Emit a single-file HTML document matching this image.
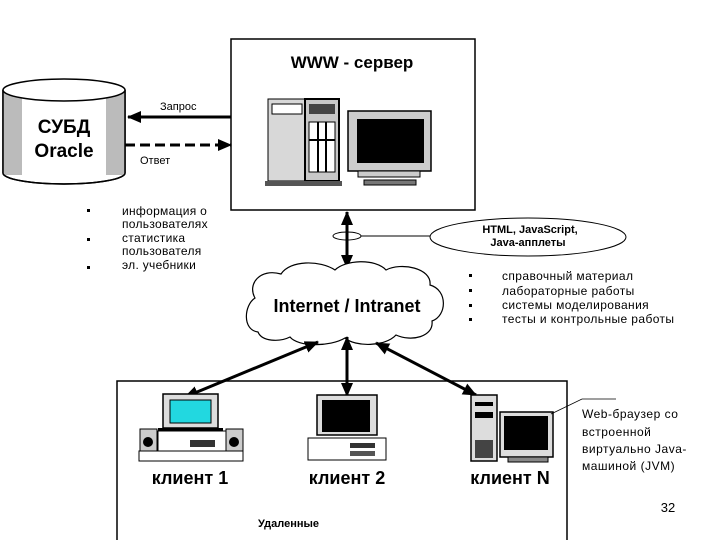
<!DOCTYPE html>
<html><head><meta charset="utf-8"><style>
html,body{margin:0;padding:0;background:#fff;}
svg{display:block;}
text{font-family:"Liberation Sans","DejaVu Sans",sans-serif;fill:#000;}
</style></head><body>
<svg width="720" height="540" viewBox="0 0 720 540" xmlns="http://www.w3.org/2000/svg">
<defs>
<marker id="ah2" markerWidth="14" markerHeight="12" refX="13" refY="6" orient="auto" markerUnits="userSpaceOnUse"><path d="M0,0 L14,6 L0,12 z" fill="#000"/></marker>
<marker id="ah2s" markerWidth="14" markerHeight="12" refX="1" refY="6" orient="auto" markerUnits="userSpaceOnUse"><path d="M14,0 L0,6 L14,12 z" fill="#000"/></marker>
</defs>
<rect x="231" y="39" width="244" height="171" fill="#fff" stroke="#000" stroke-width="1.5"/>
<text x="352" y="68" font-size="17" font-weight="bold" text-anchor="middle">WWW - сервер</text>
<rect x="268" y="99" width="38" height="82" fill="#d8d8d8" stroke="#000"/>
<rect x="272" y="104" width="30" height="10" fill="#fff" stroke="#000"/>
<rect x="305" y="99" width="34" height="82" fill="#c8c8c8" stroke="#000" stroke-width="2"/>
<rect x="309" y="104" width="26" height="10" fill="#444"/>
<rect x="309" y="122" width="26" height="50" fill="#fff" stroke="#000"/>
<line x1="318" y1="122" x2="318" y2="172" stroke="#000" stroke-width="2"/>
<line x1="326" y1="122" x2="326" y2="172" stroke="#000" stroke-width="2"/>
<line x1="309" y1="140" x2="335" y2="140" stroke="#000" stroke-width="2"/>
<rect x="265" y="181" width="77" height="5" fill="#555"/>
<rect x="348" y="111" width="83" height="60" fill="#ccc" stroke="#000" stroke-width="1.5"/>
<rect x="357" y="119" width="67" height="44" fill="#000"/>
<rect x="358" y="171" width="62" height="6" fill="#ccc" stroke="#000"/>
<rect x="364" y="180" width="52" height="5" fill="#777" stroke="#000"/>
<path d="M3,90 L3,173 A61,11 0 0 0 125,173 L125,90" fill="#fff" stroke="#000" stroke-width="1.5"/>
<rect x="3" y="90" width="19" height="85" fill="#bbb"/>
<rect x="106" y="90" width="19" height="85" fill="#bbb"/>
<path d="M3,90 L3,173 A61,11 0 0 0 125,173 L125,90" fill="none" stroke="#000" stroke-width="1.5"/>
<ellipse cx="64" cy="90" rx="61" ry="11" fill="#fff" stroke="#000" stroke-width="1.5"/>
<text x="64" y="133" font-size="19" font-weight="bold" text-anchor="middle">СУБД</text>
<text x="64" y="157" font-size="19" font-weight="bold" text-anchor="middle">Oracle</text>
<line x1="231" y1="117" x2="128" y2="117" stroke="#000" stroke-width="3" marker-end="url(#ah2)"/>
<text x="160" y="110" font-size="11">Запрос</text>
<line x1="125" y1="145" x2="231" y2="145" stroke="#000" stroke-width="3" stroke-dasharray="10,5" marker-end="url(#ah2)"/>
<text x="140" y="164" font-size="11">Ответ</text>
<g font-size="12" letter-spacing="0.3">
<rect x="87" y="209" width="3" height="3" fill="#000"/>
<rect x="87" y="238" width="3" height="3" fill="#000"/>
<rect x="87" y="266" width="3" height="3" fill="#000"/>
<text x="122" y="215">информация о</text>
<text x="122" y="228">пользователях</text>
<text x="122" y="242">статистика</text>
<text x="122" y="255">пользователя</text>
<text x="122" y="269">эл. учебники</text>
</g>
<line x1="347" y1="212" x2="347" y2="268" stroke="#000" stroke-width="3" marker-start="url(#ah2s)" marker-end="url(#ah2)"/>
<ellipse cx="347" cy="236" rx="14" ry="4" fill="none" stroke="#000"/>
<line x1="361" y1="236" x2="430" y2="236" stroke="#000"/>
<ellipse cx="528" cy="237" rx="98" ry="19" fill="#fff" stroke="#000"/>
<text x="530" y="233" font-size="11" font-weight="bold" text-anchor="middle">HTML, JavaScript,</text>
<text x="528" y="246" font-size="11" font-weight="bold" text-anchor="middle">Java-апплеты</text>
<path d="M258,332 C242,330 244,305 255,298 C247,284 260,268 281,274 C290,260 320,260 335,270 C345,260 375,258 386,270 C401,262 432,268 430,285 C448,290 447,316 432,321 C434,337 411,342 396,335 C385,347 355,347 345,338 C330,347 298,347 290,337 C280,342 262,342 258,332 Z" fill="#fff" stroke="#000" stroke-width="1.2"/>
<text x="347" y="312" font-size="18" font-weight="bold" text-anchor="middle">Internet / Intranet</text>
<g font-size="12" letter-spacing="0.4">
<rect x="469" y="274" width="3" height="3" fill="#000"/>
<rect x="469" y="289" width="3" height="3" fill="#000"/>
<rect x="469" y="304" width="3" height="3" fill="#000"/>
<rect x="469" y="318" width="3" height="3" fill="#000"/>
<text x="502" y="280">справочный  материал</text>
<text x="502" y="295">лабораторные работы</text>
<text x="502" y="309">системы моделирования</text>
<text x="502" y="323">тесты и контрольные работы</text>
</g>
<rect x="117" y="381" width="450" height="165" fill="#fff" stroke="#000" stroke-width="1.5"/>
<line x1="318" y1="342" x2="185" y2="397" stroke="#000" stroke-width="3" marker-start="url(#ah2s)" marker-end="url(#ah2)"/>
<line x1="347" y1="337" x2="347" y2="396" stroke="#000" stroke-width="3" marker-start="url(#ah2s)" marker-end="url(#ah2)"/>
<line x1="376" y1="343" x2="476" y2="395" stroke="#000" stroke-width="3" marker-start="url(#ah2s)" marker-end="url(#ah2)"/>
<rect x="163" y="394" width="55" height="34" fill="#ddd" stroke="#000" stroke-width="1.5"/>
<rect x="170" y="400" width="41" height="23" fill="#22d8e0" stroke="#000"/>
<rect x="158" y="428" width="65" height="3" fill="#000"/>
<rect x="158" y="431" width="68" height="20" fill="#fff" stroke="#000"/>
<rect x="190" y="440" width="25" height="7" fill="#333"/>
<rect x="140" y="429" width="17" height="22" fill="#ccc" stroke="#000"/>
<circle cx="148" cy="442" r="5" fill="#000"/>
<rect x="226" y="429" width="17" height="22" fill="#ccc" stroke="#000"/>
<circle cx="234" cy="442" r="5" fill="#000"/>
<rect x="139" y="451" width="104" height="10" fill="#fff" stroke="#000"/>
<text x="190" y="484" font-size="18" font-weight="bold" text-anchor="middle">клиент 1</text>
<rect x="317" y="395" width="60" height="40" fill="#ddd" stroke="#000" stroke-width="1.5"/>
<rect x="322" y="400" width="48" height="32" fill="#000"/>
<rect x="308" y="438" width="78" height="22" fill="#fff" stroke="#000"/>
<rect x="350" y="443" width="25" height="5" fill="#333"/>
<rect x="350" y="451" width="25" height="5" fill="#555"/>
<text x="347" y="484" font-size="18" font-weight="bold" text-anchor="middle">клиент 2</text>
<rect x="471" y="395" width="26" height="66" fill="#ddd" stroke="#000" stroke-width="1.5"/>
<rect x="475" y="402" width="18" height="4" fill="#000"/>
<rect x="475" y="412" width="18" height="6" fill="#000"/>
<rect x="475" y="440" width="18" height="18" fill="#444"/>
<rect x="500" y="412" width="53" height="45" fill="#ddd" stroke="#000" stroke-width="1.5"/>
<rect x="504" y="416" width="44" height="34" fill="#000"/>
<rect x="508" y="457" width="40" height="5" fill="#888" stroke="#000"/>
<text x="510" y="484" font-size="18" font-weight="bold" text-anchor="middle">клиент N</text>
<polyline points="551,414 582,399 616,399" fill="none" stroke="#000" stroke-width="0.8"/>
<g font-size="12" letter-spacing="0.5">
<text x="582" y="418">Web-браузер со</text>
<text x="582" y="436">встроенной</text>
<text x="582" y="453">виртуально Java-</text>
<text x="582" y="470">машиной (JVM)</text>
</g>
<text x="668" y="512" font-size="13" text-anchor="middle">32</text>
<text x="258" y="527" font-size="11" font-weight="bold">Удаленные</text>
</svg>
</body></html>
